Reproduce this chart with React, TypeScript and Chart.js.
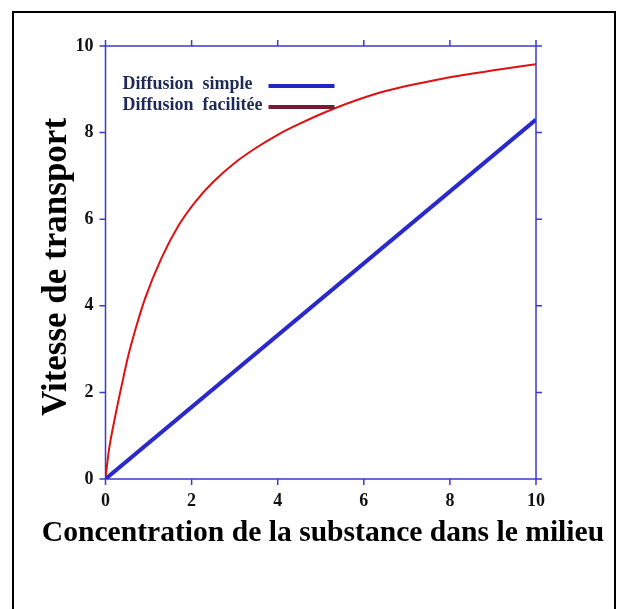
import React, { useEffect, useRef } from "react";
import { Chart, registerables } from "chart.js";

Chart.register(...registerables);

// ---- data ----
const xTicks = [0, 2, 4, 6, 8, 10];
const yTicks = [0, 2, 4, 6, 8, 10];

const simpleX = [0, 10];
const simpleY = [0, 8.3];

const facilX = [0, 0.07, 0.22, 0.38, 0.53, 0.68, 0.92, 1.3, 1.7, 2.1, 2.5, 3.0, 3.5, 4.0, 4.5, 5.3, 6.4, 7.9, 9.1, 10];
const facilY = [0, 0.6, 1.42, 2.18, 2.85, 3.4, 4.17, 5.1, 5.86, 6.42, 6.86, 7.3, 7.65, 7.95, 8.2, 8.55, 8.93, 9.26, 9.45, 9.58];

const seriesNames = ["Diffusion  simple", "Diffusion  facilitée"];
const legendColors = ["#2424cc", "#7a1a32"];
const xTitle = "Concentration de la substance dans le milieu";
const yTitle = "Vitesse de transport";

const AXIS = "#3a3ad0";
const FONT = "'Liberation Serif', 'Times New Roman', serif";

const decor = {
  id: "decor",
  beforeDatasetsDraw(chart: any) {
    const { ctx, scales } = chart;
    const x = scales.x, y = scales.y;
    const L = x.getPixelForValue(xTicks[0]);
    const R = x.getPixelForValue(xTicks[xTicks.length - 1]);
    const B = y.getPixelForValue(yTicks[0]);
    const T = y.getPixelForValue(yTicks[yTicks.length - 1]);
    ctx.save();
    ctx.strokeStyle = AXIS;
    ctx.lineWidth = 1.5;
    ctx.strokeRect(L, T, R - L, B - T);
    ctx.beginPath();
    for (const v of xTicks) {
      const px = x.getPixelForValue(v);
      ctx.moveTo(px, B); ctx.lineTo(px, B + 6);
      ctx.moveTo(px, T); ctx.lineTo(px, T - 6);
    }
    for (const v of yTicks) {
      const py = y.getPixelForValue(v);
      ctx.moveTo(L, py); ctx.lineTo(L - 6, py);
      ctx.moveTo(R, py); ctx.lineTo(R + 6, py);
    }
    ctx.stroke();
    ctx.restore();
  },
  afterDraw(chart: any) {
    const { ctx, chartArea } = chart;
    ctx.save();
    // outer box
    ctx.strokeStyle = "#000";
    ctx.lineWidth = 2;
    ctx.beginPath();
    ctx.moveTo(13, 640); ctx.lineTo(13, 12); ctx.lineTo(615, 12); ctx.lineTo(615, 640);
    ctx.stroke();

    // legend
    ctx.font = `bold 18px ${FONT}`;
    ctx.textBaseline = "middle";
    ctx.textAlign = "left";
    ctx.fillStyle = "#1c2a55";
    const lx = chartArea.left + 17;
    const ly = [chartArea.top + 38, chartArea.top + 59];
    seriesNames.forEach((name, i) => {
      ctx.fillText(name, lx, ly[i]);
      ctx.strokeStyle = legendColors[i];
      ctx.lineWidth = 4;
      ctx.beginPath();
      ctx.moveTo(lx + 146, ly[i] + 2);
      ctx.lineTo(lx + 212, ly[i] + 2);
      ctx.stroke();
    });

    // titles
    ctx.fillStyle = "#000";
    ctx.font = `bold 29.6px ${FONT}`;
    ctx.textAlign = "center";
    ctx.fillText(xTitle, 323, 533);
    ctx.save();
    ctx.translate(57, 267);
    ctx.rotate(-Math.PI / 2);
    ctx.font = `bold 35px ${FONT}`;
    ctx.fillText(yTitle, 0, 0);
    ctx.restore();
    ctx.restore();
  },
};

export default function App() {
  const ref = useRef<HTMLCanvasElement | null>(null);
  useEffect(() => {
    if (!ref.current) return;
    const chart = new Chart(ref.current, {
      type: "line",
      data: {
        datasets: [
          {
            label: seriesNames[0],
            data: simpleX.map((v, i) => ({ x: v, y: simpleY[i] })),
            borderColor: "#2a2acc",
            borderWidth: 4,
            pointRadius: 0,
            fill: false,
          },
          {
            label: seriesNames[1],
            data: facilX.map((v, i) => ({ x: v, y: facilY[i] })),
            borderColor: "#e01010",
            borderWidth: 2,
            pointRadius: 0,
            fill: false,
            cubicInterpolationMode: "monotone",
          },
        ],
      },
      options: {
        animation: false,
        responsive: false,
        devicePixelRatio: 1,
        layout: { padding: { left: 0, top: 46, right: 90, bottom: 0 } },
        plugins: { legend: { display: false }, tooltip: { enabled: false } },
        scales: {
          x: {
            type: "linear",
            min: 0,
            max: 10,
            grid: { display: false, drawTicks: false },
            border: { display: false },
            afterBuildTicks: (s: any) => { s.ticks = xTicks.map((v) => ({ value: v })); },
            afterFit: (s: any) => { s.height = 609 - 479; },
            ticks: { color: "#111", padding: 12, font: { family: FONT, size: 18, weight: "bold" }, maxRotation: 0 },
          },
          y: {
            type: "linear",
            min: 0,
            max: 10,
            grid: { display: false, drawTicks: false },
            border: { display: false },
            afterBuildTicks: (s: any) => { s.ticks = yTicks.map((v) => ({ value: v })); },
            afterFit: (s: any) => { s.width = 105.5; },
            ticks: { color: "#111", padding: 12, font: { family: FONT, size: 18, weight: "bold" } },
          },
        },
      },
      plugins: [decor],
    });
    return () => chart.destroy();
  }, []);
  return (
    <div style={{ position: "absolute", left: 0, top: 0, width: 626, height: 609, background: "#fff" }}>
      <canvas ref={ref} width={626} height={609} style={{ width: 626, height: 609 }} />
    </div>
  );
}
